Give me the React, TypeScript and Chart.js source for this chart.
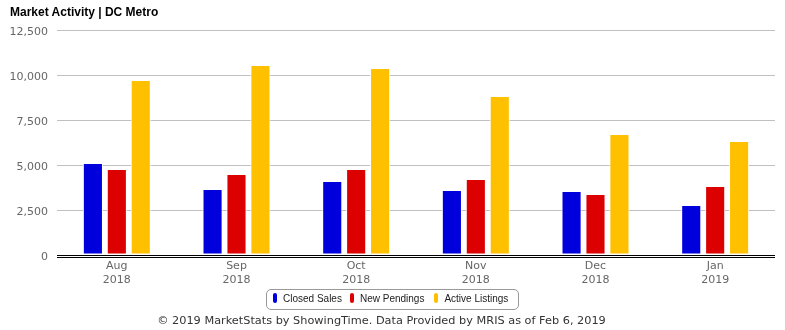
import React, { useEffect, useRef } from "react";
import { Chart, registerables } from "chart.js";

Chart.register(...registerables);

const months = ["Aug", "Sep", "Oct", "Nov", "Dec", "Jan"];
const years = ["2018", "2018", "2018", "2018", "2018", "2019"];
const closedSales = [5110, 3670, 4110, 3610, 3560, 2780];
const newPendings = [4780, 4500, 4780, 4220, 3390, 3830];
const activeListings = [9720, 10560, 10390, 8830, 6720, 6330];
const seriesNames = ["Closed Sales", "New Pendings", "Active Listings"];
const seriesColors = ["#0000DD", "#DD0000", "#FFC000"];
const yMax = 12500;
const yStep = 2500;
const titleText = "Market Activity | DC Metro";
const footerText = "© 2019 MarketStats by ShowingTime. Data Provided by MRIS as of Feb 6, 2019";

const axisLinePlugin = {
  id: "axisLine",
  afterDraw(chart: any) {
    const { ctx, chartArea } = chart;
    ctx.save();
    ctx.strokeStyle = "#000";
    ctx.lineWidth = 1;
    ctx.beginPath();
    ctx.moveTo(chartArea.left, chartArea.bottom + 2.5);
    ctx.lineTo(chartArea.right, chartArea.bottom + 2.5);
    ctx.stroke();
    ctx.restore();
  },
};

export default function App() {
  const ref = useRef<HTMLCanvasElement | null>(null);

  useEffect(() => {
    if (!ref.current) return;
    const values = [closedSales, newPendings, activeListings];
    const chart = new Chart(ref.current, {
      type: "bar",
      data: {
        labels: months.map((m, i) => [m, years[i]]),
        datasets: values.map((v, i) => ({
          label: seriesNames[i],
          data: v,
          backgroundColor: seriesColors[i],
          borderColor: "#FFFFFF",
          borderWidth: 1,
          borderSkipped: false,
          categoryPercentage: 0.6,
          barPercentage: 0.84,
        })),
      },
      options: {
        animation: false,
        responsive: false,
        maintainAspectRatio: false,
        layout: { padding: { left: 0, right: 10, top: 30, bottom: 0 } },
        plugins: {
          legend: { display: false },
          title: { display: false },
          tooltip: { enabled: false },
        },
        scales: {
          x: {
            grid: { display: false, drawTicks: false },
            border: { display: false },
            ticks: {
              color: "#666666",
              font: { family: "DejaVu Sans", size: 11 },
              padding: 5,
              maxRotation: 0,
            },
            afterFit: (scale: any) => {
              scale.height = 75;
            },
          },
          y: {
            min: 0,
            max: yMax,
            ticks: {
              stepSize: yStep,
              color: "#666666",
              font: { family: "DejaVu Sans", size: 11 },
              padding: 9,
              labelOffset: 2,
              callback: (v: any) => Number(v).toLocaleString("en-US"),
            },
            grid: {
              drawTicks: false,
              color: (c: any) => (c.tick && c.tick.value === 0 ? "#000000" : "#C0C0C0"),
              lineWidth: 1,
            },
            border: { display: false },
            afterFit: (scale: any) => {
              scale.width = 57;
            },
          },
        },
      },
      plugins: [axisLinePlugin],
    } as any);
    return () => chart.destroy();
  }, []);

  return (
    <div style={{ position: "absolute", left: 0, top: 0, width: 785, height: 330, background: "#fff" }}>
      <canvas ref={ref} width={785} height={330} style={{ position: "absolute", left: 0, top: 0, width: 785, height: 330 }} />
      <div
        style={{
          position: "absolute",
          left: 10,
          top: 6,
          font: "bold 12px 'Liberation Sans', Arial, sans-serif",
          lineHeight: "12px",
          color: "#000",
          whiteSpace: "nowrap",
        }}
      >
        {titleText}
      </div>
      <div
        style={{
          position: "absolute",
          left: 266,
          top: 289,
          width: 245,
          height: 19,
          border: "1px solid #999",
          borderRadius: 5,
          display: "flex",
          alignItems: "center",
          paddingLeft: 6,
          boxSizing: "content-box",
          font: "10px 'Liberation Sans', Arial, sans-serif",
          color: "#222",
          whiteSpace: "nowrap",
        }}
      >
        {seriesNames.map((n, i) => (
          <div key={n} style={{ display: "flex", alignItems: "center", marginRight: i === 1 ? 10 : 8, marginTop: -3 }}>
            <span
              style={{
                display: "inline-block",
                width: 4,
                height: 10,
                borderRadius: 2,
                background: seriesColors[i],
                marginRight: 6,
              }}
            />
            <span>{n}</span>
          </div>
        ))}
      </div>
      <div
        style={{
          position: "absolute",
          left: 0,
          width: 763,
          top: 315,
          textAlign: "center",
          font: "11.3px 'DejaVu Sans', sans-serif",
          lineHeight: "11px",
          color: "#333",
          whiteSpace: "nowrap",
        }}
      >
        {footerText}
      </div>
    </div>
  );
}
